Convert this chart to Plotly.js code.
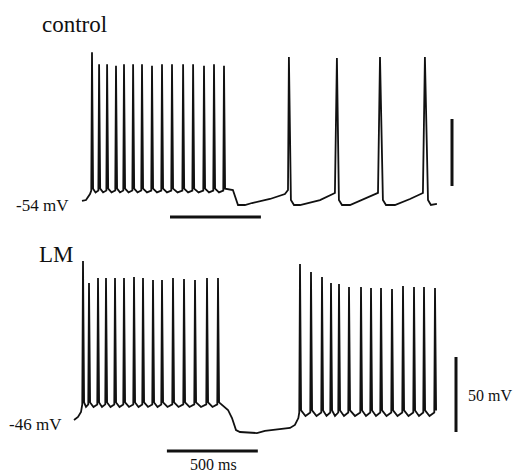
<!DOCTYPE html>
<html><head><meta charset="utf-8">
<script src="https://cdn.plot.ly/plotly-3.0.1.min.js"></script>
<style>html,body{margin:0;padding:0;background:#fff}#plot{width:515px;height:473px}</style>
</head><body><div id="plot"></div>
<script>
// ---------- DATA (time in ms, membrane potential in mV) ----------
// control: onset before burst
const ctrlPreT = [0, 22, 44];
const ctrlPreV = [-54, -53.3, -48.8];
// control: burst during current step
const ctrlBurstT = [55, 94, 138, 187, 231, 281, 330, 385, 440, 495, 556, 611, 671, 726, 781];
const ctrlBurstPeak = [57, 48, 48, 47, 48, 48, 48, 47, 48, 48, 48, 48, 47, 48, 47];
const ctrlBurstLevels = [-46.2, -44.8, -47.6]; // threshold, after-depolarisation, trough
// control: after the step (slow ramps and rebound spikes)
const ctrlPostT = [830, 847, 858, 896, 935, 1034, 1116, 1133, 1138, 1149, 1166, 1199, 1309, 1391, 1402, 1413, 1430, 1474, 1556, 1628, 1639, 1655, 1672, 1721, 1804, 1875, 1886, 1903, 1919, 1952];
const ctrlPostV = [-45.8, -53.3, -57, -57, -55.5, -52.5, -48.8, -45.8, 53.5, -53.3, -57, -57, -53.3, -48, 52.7, -53.3, -57, -57, -52.5, -48, 53.5, -53.3, -57, -57, -52.5, -48, 53.5, -53.3, -57, -56.2];

// LM: onset
const lmPreT = [-44, -22, -5.5];
const lmPreV = [-46, -44, -40.7];
// LM: first burst
const lmBurst1T = [5.5, 38.5, 88, 132, 181.5, 231, 286, 335.5, 390.5, 440, 500.5, 561, 621.5, 687.5, 748];
const lmBurst1Peak = [60, 45.3, 48.7, 48.7, 48.7, 48.7, 49.3, 48.7, 47.3, 47.3, 48.7, 48, 47.3, 48.7, 48.7];
const lmBurst1Levels = [-35.6, -34.3, -37.3];
// LM: hyperpolarised gap
const lmGapT = [803, 825, 847, 869, 962, 1006, 1144, 1171, 1190];
const lmGapV = [-39.3, -44.7, -52.7, -54, -54.7, -53.3, -51.3, -49.3, -44.7];
// LM: second burst
const lmBurst2T = [1199, 1259.5, 1320, 1369.5, 1413.5, 1468.5, 1534.5, 1589.5, 1644.5, 1705, 1765.5, 1826, 1881, 1941.5];
const lmBurst2Peak = [58, 52.7, 49.3, 45.3, 44.7, 42.7, 42.7, 42, 42, 41.3, 43.3, 42.7, 42.7, 42];
const lmBurst2Levels = [-41, -39.6, -43.3];

// scale bars
const timeBarMs = 500;
const voltBarMv = 50;
const ctrlTimeBarStart = 484, ctrlTimeBarV = -65.9;
const lmTimeBarStart = 467, lmTimeBarV = -66.7;
const ctrlVoltBarT = 2035, ctrlVoltBarBase = -42.8;
const lmVoltBarT = 2057, lmVoltBarBase = -54;

// ---------- build polylines ----------
function burst(T, P, lv, x, y) {
  for (let i = 0; i < T.length; i++) {
    x.push(T[i] - 4); y.push(lv[0]);
    x.push(T[i]); y.push(P[i]);
    x.push(T[i] + 6); y.push(lv[1]);
    if (i < T.length - 1) { x.push((T[i] + T[i + 1]) / 2); y.push(lv[2]); }
  }
}
const cx = [...ctrlPreT], cy = [...ctrlPreV];
burst(ctrlBurstT, ctrlBurstPeak, ctrlBurstLevels, cx, cy);
cx.push(...ctrlPostT); cy.push(...ctrlPostV);

const lx = [...lmPreT], ly = [...lmPreV];
burst(lmBurst1T, lmBurst1Peak, lmBurst1Levels, lx, ly);
lx.push(...lmGapT); ly.push(...lmGapV);
burst(lmBurst2T, lmBurst2Peak, lmBurst2Levels, lx, ly);

const ink = '#111';
const traces = [
  {x: cx, y: cy, yaxis: 'y', mode: 'lines', line: {color: ink, width: 1.8}},
  {x: lx, y: ly, yaxis: 'y2', mode: 'lines', line: {color: ink, width: 1.8}},
  {x: [ctrlTimeBarStart, ctrlTimeBarStart + timeBarMs], y: [ctrlTimeBarV, ctrlTimeBarV], yaxis: 'y', mode: 'lines', line: {color: ink, width: 3}},
  {x: [lmTimeBarStart, lmTimeBarStart + timeBarMs], y: [lmTimeBarV, lmTimeBarV], yaxis: 'y2', mode: 'lines', line: {color: ink, width: 3}},
  {x: [ctrlVoltBarT, ctrlVoltBarT], y: [ctrlVoltBarBase, ctrlVoltBarBase + voltBarMv], yaxis: 'y', mode: 'lines', line: {color: ink, width: 3}},
  {x: [lmVoltBarT, lmVoltBarT], y: [lmVoltBarBase, lmVoltBarBase + voltBarMv], yaxis: 'y2', mode: 'lines', line: {color: ink, width: 3}}
];

const serif = 'Liberation Serif, Times New Roman, serif';
function lab(text, px, py, size, anchor) {
  return {text: text, xref: 'paper', yref: 'paper', x: px / 515, y: 1 - py / 473,
    xanchor: anchor || 'left', yanchor: 'middle', showarrow: false,
    font: {family: serif, size: size, color: '#111'}};
}

const layout = {
  width: 515, height: 473,
  margin: {l: 0, r: 0, t: 0, b: 0},
  paper_bgcolor: '#fff', plot_bgcolor: '#fff',
  showlegend: false,
  xaxis: {range: [-451, 2381.5], visible: false, fixedrange: true},
  yaxis: {range: [-257, 96], visible: false, fixedrange: true},
  yaxis2: {range: [-81.33, 234], visible: false, overlaying: 'y', fixedrange: true},
  annotations: [
    lab('control', 40, 24, 23),
    lab('-54 mV', 14, 205, 17),
    lab('LM', 37, 254, 23),
    lab('-46 mV', 7, 424, 17),
    lab('50 mV', 466, 395, 16),
    lab('500 ms', 213, 464, 16, 'center')
  ]
};
Plotly.newPlot('plot', traces, layout, {staticPlot: true, displayModeBar: false});
</script>
</body></html>
